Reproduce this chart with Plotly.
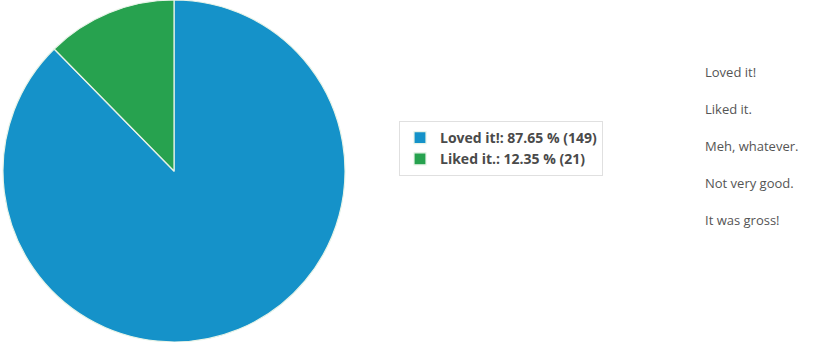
import plotly.graph_objects as go

labels = ["Loved it!", "Liked it."]
counts = [149, 21]
colors = ["#1592c9", "#27a24f"]
options = ["Loved it!", "Liked it.", "Meh, whatever.", "Not very good.", "It was gross!"]

total = sum(counts)
legend_labels = [f"{l}: {c / total * 100:.2f} % ({c})" for l, c in zip(labels, counts)]

fig = go.Figure()
fig.add_trace(go.Pie(
    labels=legend_labels,
    values=counts,
    marker=dict(colors=colors, line=dict(color="#e8f4e8", width=1.2)),
    sort=False,
    direction="clockwise",
    rotation=0,
    textinfo="none",
    hoverinfo="label",
    domain=dict(x=[3 / 816, 345 / 816], y=[0.0, 1.0]),
))

for i, opt in enumerate(options):
    fig.add_annotation(
        text=opt, xref="paper", yref="paper",
        x=703 / 816, y=1 - (72 + 37 * i) / 342,
        xanchor="left", yanchor="middle", showarrow=False,
        font=dict(family="Open Sans", size=13, color="#555555"),
    )

fig.update_layout(
    width=816, height=342,
    margin=dict(l=0, r=0, t=0, b=0),
    paper_bgcolor="white", plot_bgcolor="white",
    showlegend=True,
    legend=dict(
        x=399 / 816, y=1 - 121 / 342, xanchor="left", yanchor="top",
        bordercolor="#e0e0e0", borderwidth=1,
        font=dict(family="Open Sans", size=14, color="#4a4a4a", weight="bold"),
        itemwidth=30,
        tracegroupgap=0,
    ),
)

fig.write_html("out.html")
